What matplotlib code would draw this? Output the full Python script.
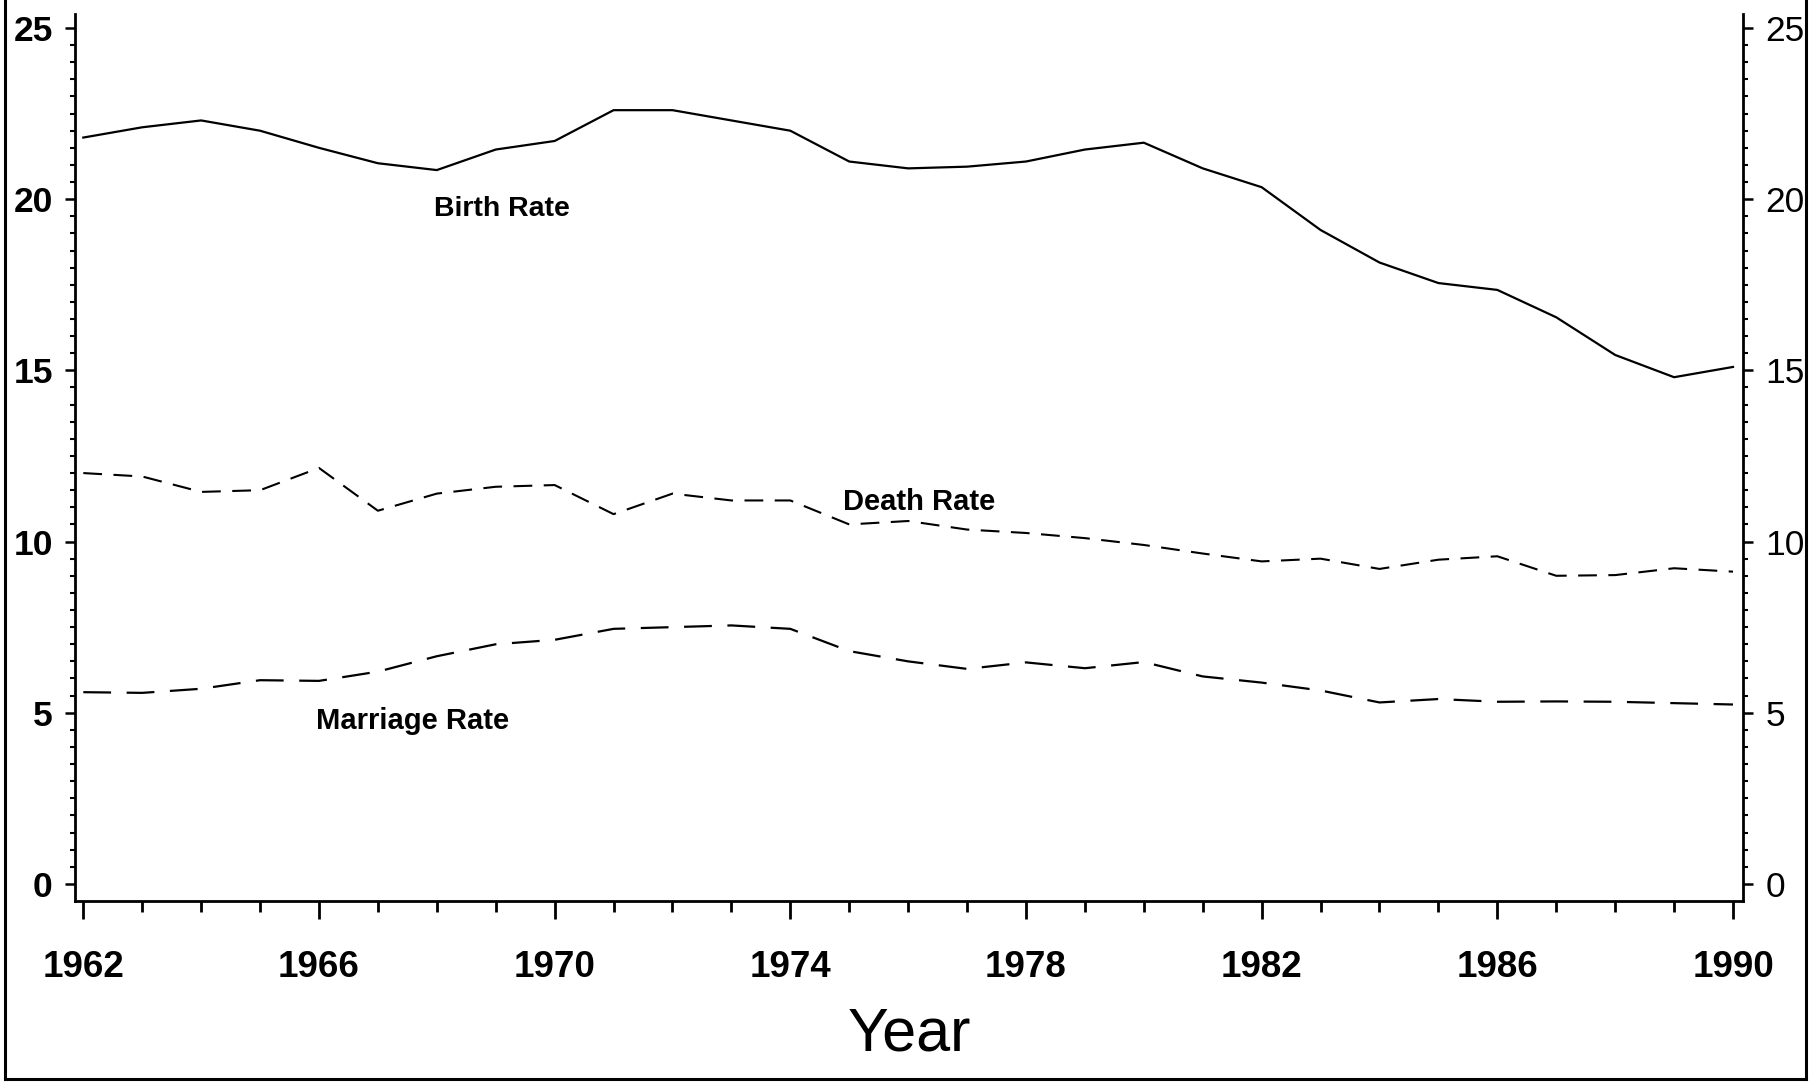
"""
Birth, death and marriage rates, 1962-1990 (scanned chart remake).
"""
import matplotlib
matplotlib.use("Agg")
import matplotlib.pyplot as plt
import numpy as np
from matplotlib.lines import Line2D
from matplotlib.ticker import FixedLocator

plt.rcParams["font.family"] = ["Liberation Sans", "DejaVu Sans"]

years = list(range(1962, 1991))

birth_rate = [21.8, 22.1, 22.3, 22.0, 21.5, 21.05, 20.85, 21.45, 21.7, 22.6,
              22.6, 22.3, 22.0, 21.1, 20.9, 20.95, 21.1, 21.45, 21.65, 20.9,
              20.35, 19.1, 18.15, 17.55, 17.35, 16.55, 15.45, 14.8, 15.1]

death_rate = [12.0, 11.9, 11.45, 11.5, 12.15, 10.9, 11.4, 11.6, 11.65, 10.8,
              11.4, 11.2, 11.2, 10.5, 10.6, 10.35, 10.25, 10.1, 9.9, 9.65,
              9.42, 9.5, 9.2, 9.47, 9.57, 9.0, 9.02, 9.22, 9.12]

marriage_rate = [5.6, 5.58, 5.7, 5.95, 5.93, 6.2, 6.65, 7.0, 7.13, 7.45,
                 7.5, 7.55, 7.45, 6.8, 6.5, 6.28, 6.47, 6.3, 6.48, 6.06,
                 5.88, 5.65, 5.3, 5.4, 5.32, 5.33, 5.32, 5.28, 5.24]

y_major = [0, 5, 10, 15, 20, 25]
x_major = [1962, 1966, 1970, 1974, 1978, 1982, 1986, 1990]

fig = plt.figure(figsize=(18.13, 10.84), dpi=100, facecolor="white")
ax = fig.add_axes([0.0414, 0.1688, 0.92, 0.818])

ax.plot(years, birth_rate, color="black", lw=1.6)
ax.plot(years, death_rate, color="black", lw=1.5, dashes=(9, 5.5))
ax.plot(years, marriage_rate, color="black", lw=1.6, dashes=(12.5, 7))

ax.text(1967.95, 19.7, "Birth Rate", fontsize=20.5, fontweight="bold",
        ha="left", va="center")
ax.text(1974.9, 11.15, "Death Rate", fontsize=21, fontweight="bold",
        ha="left", va="center")
ax.text(1965.95, 4.75, "Marriage Rate", fontsize=21, fontweight="bold",
        ha="left", va="center")

ax.set_xlim(1961.86, 1990.17)
ax.set_ylim(-0.5, 25.4)

ax.spines["top"].set_visible(False)
for side in ("left", "right", "bottom"):
    ax.spines[side].set_linewidth(2.0)

ax.xaxis.set_major_locator(FixedLocator(x_major))
ax.xaxis.set_minor_locator(FixedLocator(years))
ax.yaxis.set_major_locator(FixedLocator(y_major))
ax.yaxis.set_minor_locator(FixedLocator(list(np.arange(0, 25.01, 0.5))))

ax.tick_params(axis="x", which="major", direction="out", length=13, width=2,
               pad=22, labelsize=26.5)
ax.tick_params(axis="x", which="minor", direction="out", length=8, width=2)
ax.tick_params(axis="y", which="major", direction="out", length=7, width=1.8,
               left=True, right=True, labelleft=True, labelright=True,
               labelsize=25.5, pad=9)
ax.tick_params(axis="y", which="minor", direction="out", length=3.5,
               width=1.5, left=True, right=True)

for lab in ax.get_xticklabels():
    lab.set_fontweight("bold")
for tick in ax.yaxis.get_major_ticks():
    tick.label1.set_fontweight("bold")
    tick.label2.set_fontweight("normal")

ax.set_xlabel("Year", fontsize=44, labelpad=16)

# outer frame of the scanned page
frame_kw = dict(color="black", lw=2.2, transform=fig.transFigure)
fig.add_artist(Line2D([0.003, 0.003], [0.005, 1.0], **frame_kw))
fig.add_artist(Line2D([0.003, 0.996], [0.005, 0.005], **frame_kw))
fig.add_artist(Line2D([0.996, 0.996], [0.005, 1.0], **frame_kw))

fig.savefig("out.png", dpi=100, facecolor="white")
